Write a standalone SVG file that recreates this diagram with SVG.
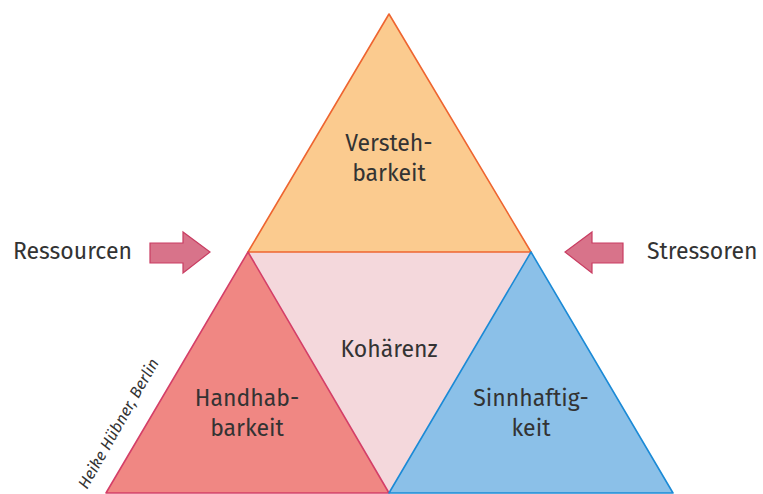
<svg xmlns="http://www.w3.org/2000/svg" width="763" height="494" viewBox="0 0 763 494">
<style>
.t{font-family:"Fira Sans","Open Sans","Noto Sans","Liberation Sans",sans-serif;font-size:23px;fill:#333333;text-anchor:middle}
.side{text-anchor:start}
.arrow{fill:#d8738a;stroke:#c93d62;stroke-width:1.2}
</style>
<rect width="763" height="494" fill="#ffffff"/>
<g id="kohaerenz">
<polygon points="248,252 531,252 389,493" fill="#f4d8dc"/>
<text class="t" x="389" y="357">Kohärenz</text>
</g>
<g id="verstehbarkeit">
<polygon points="389,14 531,252 248,252" fill="#fbcb8f" stroke="#ee6530" stroke-width="1.6" stroke-linejoin="round"/>
<text class="t" x="389" y="151">Versteh-</text>
<text class="t" x="389" y="181">barkeit</text>
</g>
<g id="handhabbarkeit">
<polygon points="248,252 389,493 106,493" fill="#f08783" stroke="#d43f68" stroke-width="1.6" stroke-linejoin="round"/>
<text class="t" x="247" y="406">Handhab-</text>
<text class="t" x="247" y="436">barkeit</text>
</g>
<g id="sinnhaftigkeit">
<polygon points="531,252 673,493 389,493" fill="#8bc0e8" stroke="#1b8ad6" stroke-width="1.6" stroke-linejoin="round"/>
<text class="t" x="531" y="406">Sinnhaftig-</text>
<text class="t" x="531" y="436">keit</text>
</g>
<g id="ressourcen">
<text class="t side" x="13" y="259">Ressourcen</text>
<polygon class="arrow" points="150,243 183,243 183,232 210,252 183,273 183,263 150,263"/>
</g>
<g id="stressoren">
<text class="t side" x="647" y="259">Stressoren</text>
<polygon class="arrow" points="623,243 592,243 592,232 565,252 592,273 592,263 623,263"/>
</g>
<g id="connectors"></g>
<text x="87" y="490" transform="rotate(-60.5 87 490)" font-family="'Fira Sans','Open Sans','Noto Sans','Liberation Sans',sans-serif" font-size="16" font-style="italic" fill="#333333">Heike Hübner, Berlin</text>
</svg>
